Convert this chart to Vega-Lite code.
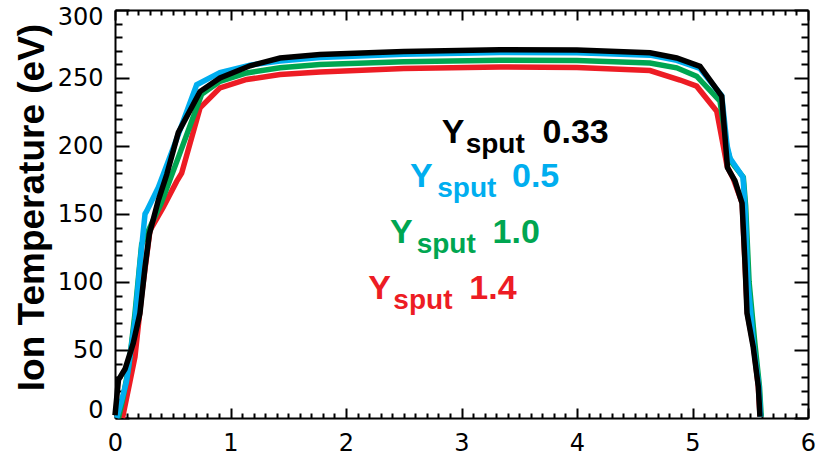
{
  "$schema": "https://vega.github.io/schema/vega-lite/v6.json",
  "width": 693,
  "height": 408,
  "autosize": {"type": "none"},
  "padding": {"left": 115, "top": 10, "right": 8, "bottom": 37},
  "background": "white",
  "config": {
    "view": {"stroke": null},
    "axis": {"domainColor": "black", "domainWidth": 2, "labelColor": "black", "labelFont": "DejaVu Sans", "labelFontSize": 24, "titleColor": "black"}
  },
  "datasets": {
    "lines": [
      {"s": "1.4", "x": 0.065, "Ti": 0}, {"s": "1.4", "x": 0.13, "Ti": 27}, {"s": "1.4", "x": 0.173, "Ti": 45}, {"s": "1.4", "x": 0.23, "Ti": 90}, {"s": "1.4", "x": 0.303, "Ti": 138}, {"s": "1.4", "x": 0.418, "Ti": 155}, {"s": "1.4", "x": 0.534, "Ti": 174}, {"s": "1.4", "x": 0.577, "Ti": 180}, {"s": "1.4", "x": 0.736, "Ti": 228}, {"s": "1.4", "x": 0.909, "Ti": 242.7}, {"s": "1.4", "x": 1.14, "Ti": 248.9}, {"s": "1.4", "x": 1.429, "Ti": 252.5}, {"s": "1.4", "x": 1.775, "Ti": 254.4}, {"s": "1.4", "x": 2.5, "Ti": 257}, {"s": "1.4", "x": 3.333, "Ti": 258.1}, {"s": "1.4", "x": 4.0, "Ti": 257.8}, {"s": "1.4", "x": 4.632, "Ti": 255.5}, {"s": "1.4", "x": 4.892, "Ti": 248.5}, {"s": "1.4", "x": 5.036, "Ti": 244}, {"s": "1.4", "x": 5.21, "Ti": 225.6}, {"s": "1.4", "x": 5.3, "Ti": 185}, {"s": "1.4", "x": 5.353, "Ti": 176}, {"s": "1.4", "x": 5.43, "Ti": 158}, {"s": "1.4", "x": 5.455, "Ti": 113}, {"s": "1.4", "x": 5.475, "Ti": 77}, {"s": "1.4", "x": 5.53, "Ti": 52}, {"s": "1.4", "x": 5.57, "Ti": 23}, {"s": "1.4", "x": 5.585, "Ti": 1},
      {"s": "1.0", "x": 0.03, "Ti": 0}, {"s": "1.0", "x": 0.07, "Ti": 15}, {"s": "1.0", "x": 0.12, "Ti": 38}, {"s": "1.0", "x": 0.173, "Ti": 77}, {"s": "1.0", "x": 0.231, "Ti": 128}, {"s": "1.0", "x": 0.29, "Ti": 138}, {"s": "1.0", "x": 0.4, "Ti": 158}, {"s": "1.0", "x": 0.55, "Ti": 192}, {"s": "1.0", "x": 0.75, "Ti": 238}, {"s": "1.0", "x": 0.909, "Ti": 247.6}, {"s": "1.0", "x": 1.14, "Ti": 253.7}, {"s": "1.0", "x": 1.429, "Ti": 257.5}, {"s": "1.0", "x": 1.775, "Ti": 260}, {"s": "1.0", "x": 2.5, "Ti": 262}, {"s": "1.0", "x": 3.333, "Ti": 263}, {"s": "1.0", "x": 4.0, "Ti": 262.8}, {"s": "1.0", "x": 4.632, "Ti": 261}, {"s": "1.0", "x": 4.863, "Ti": 257.5}, {"s": "1.0", "x": 5.036, "Ti": 251.3}, {"s": "1.0", "x": 5.238, "Ti": 233}, {"s": "1.0", "x": 5.3, "Ti": 198}, {"s": "1.0", "x": 5.33, "Ti": 189}, {"s": "1.0", "x": 5.44, "Ti": 177}, {"s": "1.0", "x": 5.46, "Ti": 156}, {"s": "1.0", "x": 5.49, "Ti": 100}, {"s": "1.0", "x": 5.54, "Ti": 55}, {"s": "1.0", "x": 5.58, "Ti": 23}, {"s": "1.0", "x": 5.595, "Ti": 1},
      {"s": "0.5", "x": 0.015, "Ti": 0}, {"s": "0.5", "x": 0.058, "Ti": 13}, {"s": "0.5", "x": 0.1, "Ti": 27}, {"s": "0.5", "x": 0.173, "Ti": 72}, {"s": "0.5", "x": 0.216, "Ti": 113}, {"s": "0.5", "x": 0.26, "Ti": 150}, {"s": "0.5", "x": 0.274, "Ti": 152}, {"s": "0.5", "x": 0.375, "Ti": 169.5}, {"s": "0.5", "x": 0.52, "Ti": 202}, {"s": "0.5", "x": 0.707, "Ti": 245}, {"s": "0.5", "x": 0.909, "Ti": 254}, {"s": "0.5", "x": 1.169, "Ti": 259.5}, {"s": "0.5", "x": 1.429, "Ti": 262.5}, {"s": "0.5", "x": 1.775, "Ti": 265}, {"s": "0.5", "x": 2.5, "Ti": 267.5}, {"s": "0.5", "x": 3.333, "Ti": 268.8}, {"s": "0.5", "x": 4.0, "Ti": 268.5}, {"s": "0.5", "x": 4.632, "Ti": 266.8}, {"s": "0.5", "x": 4.863, "Ti": 263}, {"s": "0.5", "x": 5.065, "Ti": 257}, {"s": "0.5", "x": 5.253, "Ti": 237}, {"s": "0.5", "x": 5.3, "Ti": 200}, {"s": "0.5", "x": 5.325, "Ti": 191}, {"s": "0.5", "x": 5.437, "Ti": 177}, {"s": "0.5", "x": 5.455, "Ti": 156}, {"s": "0.5", "x": 5.48, "Ti": 100}, {"s": "0.5", "x": 5.53, "Ti": 53}, {"s": "0.5", "x": 5.575, "Ti": 23}, {"s": "0.5", "x": 5.59, "Ti": 1},
      {"s": "0.33", "x": 0.0, "Ti": 2}, {"s": "0.33", "x": 0.03, "Ti": 28}, {"s": "0.33", "x": 0.087, "Ti": 36}, {"s": "0.33", "x": 0.158, "Ti": 55}, {"s": "0.33", "x": 0.216, "Ti": 77}, {"s": "0.33", "x": 0.26, "Ti": 111}, {"s": "0.33", "x": 0.297, "Ti": 135}, {"s": "0.33", "x": 0.375, "Ti": 160}, {"s": "0.33", "x": 0.448, "Ti": 179}, {"s": "0.33", "x": 0.548, "Ti": 210}, {"s": "0.33", "x": 0.736, "Ti": 240}, {"s": "0.33", "x": 0.909, "Ti": 250}, {"s": "0.33", "x": 1.169, "Ti": 259}, {"s": "0.33", "x": 1.429, "Ti": 264.7}, {"s": "0.33", "x": 1.775, "Ti": 267.2}, {"s": "0.33", "x": 2.5, "Ti": 269.5}, {"s": "0.33", "x": 3.333, "Ti": 270.8}, {"s": "0.33", "x": 4.0, "Ti": 270.5}, {"s": "0.33", "x": 4.632, "Ti": 268.6}, {"s": "0.33", "x": 4.863, "Ti": 264.7}, {"s": "0.33", "x": 5.065, "Ti": 258.6}, {"s": "0.33", "x": 5.253, "Ti": 236.6}, {"s": "0.33", "x": 5.303, "Ti": 184}, {"s": "0.33", "x": 5.368, "Ti": 174.4}, {"s": "0.33", "x": 5.429, "Ti": 158}, {"s": "0.33", "x": 5.455, "Ti": 113}, {"s": "0.33", "x": 5.472, "Ti": 77}, {"s": "0.33", "x": 5.526, "Ti": 52}, {"s": "0.33", "x": 5.57, "Ti": 23}, {"s": "0.33", "x": 5.584, "Ti": 1}
    ],
    "labels": [
      {"s": "0.33", "part": "Y", "x": 2.829, "Ti": 202.4, "label": "Y"},
      {"s": "0.33", "part": "sub", "x": 3.036, "Ti": 195.1, "label": "sput"},
      {"s": "0.33", "part": "val", "x": 3.702, "Ti": 202.4, "label": "0.33"},
      {"s": "0.5", "part": "Y", "x": 2.554, "Ti": 169.6, "label": "Y"},
      {"s": "0.5", "part": "sub", "x": 2.79, "Ti": 162.3, "label": "sput"},
      {"s": "0.5", "part": "val", "x": 3.437, "Ti": 169.6, "label": "0.5"},
      {"s": "1.0", "part": "Y", "x": 2.381, "Ti": 128.6, "label": "Y"},
      {"s": "1.0", "part": "sub", "x": 2.612, "Ti": 121.2, "label": "sput"},
      {"s": "1.0", "part": "val", "x": 3.269, "Ti": 128.6, "label": "1.0"},
      {"s": "1.4", "part": "Y", "x": 2.193, "Ti": 87.5, "label": "Y"},
      {"s": "1.4", "part": "sub", "x": 2.41, "Ti": 80.2, "label": "sput"},
      {"s": "1.4", "part": "val", "x": 3.068, "Ti": 87.5, "label": "1.4"}
    ]
  },
  "layer": [
    {
      "data": {"name": "lines"},
      "mark": {"type": "line", "opacity": 0},
      "encoding": {
        "x": {"field": "x", "type": "quantitative", "scale": {"domain": [0, 6], "nice": false, "zero": false},
          "axis": {"orient": "bottom", "values": [0.1, 0.2, 0.3, 0.4, 0.5, 0.6, 0.7, 0.8, 0.9, 1.1, 1.2, 1.3, 1.4, 1.5, 1.6, 1.7, 1.8, 1.9, 2.1, 2.2, 2.3, 2.4, 2.5, 2.6, 2.7, 2.8, 2.9, 3.1, 3.2, 3.3, 3.4, 3.5, 3.6, 3.7, 3.8, 3.9, 4.1, 4.2, 4.3, 4.4, 4.5, 4.6, 4.7, 4.8, 4.9, 5.1, 5.2, 5.3, 5.4, 5.5, 5.6, 5.7, 5.8, 5.9], "ticks": false, "labels": false, "domain": false, "title": null,
            "grid": true, "gridColor": "#000000", "gridOpacity": 1, "gridWidth": 2, "gridDash": [5, 398, 5, 0]}},
        "y": {"field": "Ti", "type": "quantitative", "scale": {"domain": [0, 300], "nice": false, "zero": false},
          "axis": {"orient": "left", "values": [10, 20, 30, 40, 60, 70, 80, 90, 110, 120, 130, 140, 160, 170, 180, 190, 210, 220, 230, 240, 260, 270, 280, 290], "ticks": false, "labels": false, "domain": false, "title": null,
            "grid": true, "gridColor": "#000000", "gridOpacity": 1, "gridWidth": 2, "gridDash": [7, 679, 7, 0]}}
      }
    },
    {
      "data": {"name": "lines"},
      "mark": {"type": "line", "opacity": 0},
      "encoding": {
        "x": {"field": "x", "type": "quantitative", "scale": {"domain": [0, 6], "nice": false, "zero": false},
          "axis": {"orient": "top", "values": [0, 6], "ticks": false, "labels": false, "domain": true, "grid": false, "title": null}},
        "y": {"field": "Ti", "type": "quantitative", "scale": {"domain": [0, 300], "nice": false, "zero": false},
          "axis": {"orient": "right", "values": [0, 300], "ticks": false, "labels": false, "domain": true, "grid": false, "title": null}}
      }
    },
    {
      "data": {"name": "lines"},
      "mark": {"type": "line", "strokeWidth": 5.5},
      "encoding": {
        "x": {"field": "x", "type": "quantitative", "scale": {"domain": [0, 6], "nice": false, "zero": false},
          "axis": {"orient": "bottom", "values": [0, 1, 2, 3, 4, 5, 6], "ticks": false, "labels": true, "labelFlush": false, "domain": true, "labelPadding": 13, "title": null, "format": "d",
            "grid": true, "gridColor": "#000000", "gridOpacity": 1, "gridWidth": 2, "gridDash": [10, 388, 10, 0]}},
        "y": {"field": "Ti", "type": "quantitative", "scale": {"domain": [0, 300], "nice": false, "zero": false},
          "axis": {"orient": "left", "values": [0, 50, 100, 150, 200, 250, 300], "ticks": false, "labels": true, "domain": true, "labelPadding": 12, "labelFlush": true, "labelFlushOffset": 4.5, "format": "d",
            "grid": true, "gridColor": "#000000", "gridOpacity": 1, "gridWidth": 2, "gridDash": [14, 665, 14, 0],
            "title": "Ion Temperature (eV)", "titleFont": "Liberation Sans", "titleFontWeight": "bold", "titleFontSize": 37, "titleX": -72, "titleY": 197, "titleAngle": -90, "titleAlign": "center", "titleBaseline": "alphabetic"}},
        "color": {"field": "s", "type": "nominal", "scale": {"domain": ["0.33", "0.5", "1.0", "1.4"], "range": ["#000000", "#00AEEF", "#00A651", "#ED1C24"]}, "legend": null}
      }
    },
    {
      "data": {"name": "labels"},
      "transform": [{"filter": "datum.part === 'Y'"}],
      "mark": {"type": "text", "font": "Liberation Sans", "fontWeight": "bold", "fontSize": 34, "align": "left", "baseline": "alphabetic"},
      "encoding": {
        "x": {"field": "x", "type": "quantitative", "scale": {"domain": [0, 6], "nice": false, "zero": false}, "axis": null},
        "y": {"field": "Ti", "type": "quantitative", "scale": {"domain": [0, 300], "nice": false, "zero": false}, "axis": null},
        "text": {"field": "label"},
        "color": {"field": "s", "type": "nominal", "scale": {"domain": ["0.33", "0.5", "1.0", "1.4"], "range": ["#000000", "#00AEEF", "#00A651", "#ED1C24"]}, "legend": null}
      }
    },
    {
      "data": {"name": "labels"},
      "transform": [{"filter": "datum.part === 'sub'"}],
      "mark": {"type": "text", "font": "Liberation Sans", "fontWeight": "bold", "fontSize": 28, "align": "left", "baseline": "alphabetic"},
      "encoding": {
        "x": {"field": "x", "type": "quantitative", "scale": {"domain": [0, 6], "nice": false, "zero": false}, "axis": null},
        "y": {"field": "Ti", "type": "quantitative", "scale": {"domain": [0, 300], "nice": false, "zero": false}, "axis": null},
        "text": {"field": "label"},
        "color": {"field": "s", "type": "nominal", "scale": {"domain": ["0.33", "0.5", "1.0", "1.4"], "range": ["#000000", "#00AEEF", "#00A651", "#ED1C24"]}, "legend": null}
      }
    },
    {
      "data": {"name": "labels"},
      "transform": [{"filter": "datum.part === 'val'"}],
      "mark": {"type": "text", "font": "Liberation Sans", "fontWeight": "bold", "fontSize": 34, "align": "left", "baseline": "alphabetic"},
      "encoding": {
        "x": {"field": "x", "type": "quantitative", "scale": {"domain": [0, 6], "nice": false, "zero": false}, "axis": null},
        "y": {"field": "Ti", "type": "quantitative", "scale": {"domain": [0, 300], "nice": false, "zero": false}, "axis": null},
        "text": {"field": "label"},
        "color": {"field": "s", "type": "nominal", "scale": {"domain": ["0.33", "0.5", "1.0", "1.4"], "range": ["#000000", "#00AEEF", "#00A651", "#ED1C24"]}, "legend": null}
      }
    }
  ],
  "resolve": {"axis": {"x": "independent", "y": "independent"}}
}
